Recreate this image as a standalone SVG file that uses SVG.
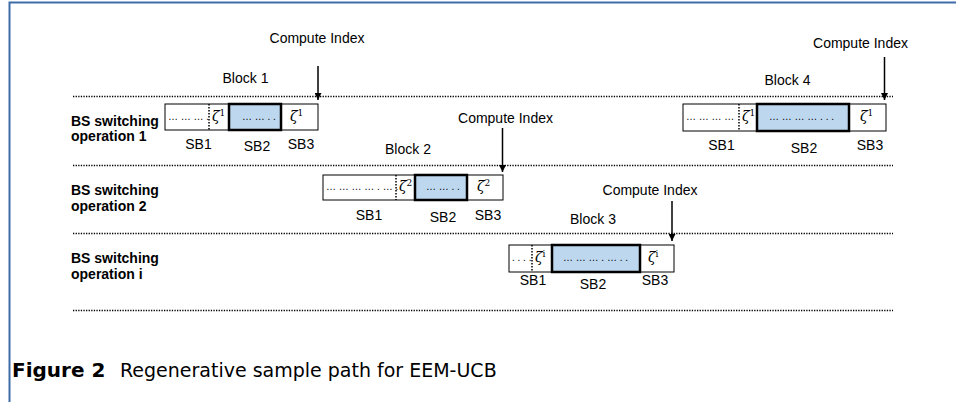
<svg xmlns="http://www.w3.org/2000/svg" width="956" height="402" viewBox="0 0 956 402">
  <defs>
    <marker id="arrowhead" viewBox="0 0 10 10" refX="10" refY="5" markerWidth="7" markerHeight="7" markerUnits="userSpaceOnUse" orient="auto">
      <path d="M0,0 L10,5 L0,10 z" fill="#000"/>
    </marker>
    <style>
      .lbl { font-family: "Liberation Sans", Arial, sans-serif; font-size: 14px; fill: #000; }
      .row { font-family: "Liberation Sans", Arial, sans-serif; font-size: 14px; font-weight: bold; fill: #000; }
      .dots { font-family: "Liberation Sans", Arial, sans-serif; font-size: 10px; fill: #000; }
      .zeta { font-family: "DejaVu Serif", "Liberation Serif", serif; font-style: italic; font-size: 14px; fill: #000; }
      .sup { font-size: 9px; font-style: normal; }
      .sep { stroke: #000; stroke-width: 1.3; stroke-dasharray: 1.3 1.3; fill: none; }
      .box { fill: #fff; stroke: #000; stroke-width: 1; }
      .sb2 { fill: #bdd7ee; stroke: #000; stroke-width: 2.5; }
      .div { stroke: #000; stroke-width: 1.5; stroke-dasharray: 1.5 1.5; }
      .arrow { stroke: #000; stroke-width: 1.5; fill: none; marker-end: url(#arrowhead); }
      .cap { font-family: "DejaVu Sans", "Liberation Sans", sans-serif; font-size: 19px; fill: #000; }
      .cap-b { font-size: 20px; font-weight: bold; }
    </style>
  </defs>
  <rect width="956" height="402" fill="#fff"/>

  <!-- page frame -->
  <path d="M9.5,402 L9.5,2.5 L956,2.5" fill="none" stroke="#3f6ca8" stroke-width="2"/>

  <!-- horizontal row separators -->
  <g id="separators">
    <line class="sep" x1="73" y1="96.5" x2="893" y2="96.5"/>
    <line class="sep" x1="73" y1="165.5" x2="893" y2="165.5"/>
    <line class="sep" x1="73" y1="233.5" x2="893" y2="233.5"/>
    <line class="sep" x1="73" y1="310.5" x2="893" y2="310.5"/>
  </g>

  <!-- row titles -->
  <g id="row-titles">
    <text class="row" x="71" y="126">BS switching</text>
    <text class="row" x="71" y="141">operation 1</text>
    <text class="row" x="71" y="195">BS switching</text>
    <text class="row" x="71" y="211">operation 2</text>
    <text class="row" x="71" y="263">BS switching</text>
    <text class="row" x="71" y="279">operation i</text>
  </g>

  <!-- Block 1 -->
  <g id="block1">
    <rect class="box" x="165" y="104" width="153" height="26"/>
    <line class="div" x1="209" y1="104" x2="209" y2="130"/>
    <rect class="sb2" x="229" y="104" width="52" height="26"/>
    <text class="dots" x="168" y="120">… … … .</text>
    <text class="zeta" x="212" y="121">ζ<tspan class="sup" dy="-5">1</tspan></text>
    <text class="dots" x="242" y="120">… … . .</text>
    <text class="zeta" x="290" y="121">ζ<tspan class="sup" dy="-5">1</tspan></text>
    <text class="lbl" x="198.5" y="149" text-anchor="middle">SB1</text>
    <text class="lbl" x="257" y="151" text-anchor="middle">SB2</text>
    <text class="lbl" x="301" y="149" text-anchor="middle">SB3</text>
    <text class="lbl" x="245.5" y="83" text-anchor="middle">Block 1</text>
    <text class="lbl" x="317" y="43" text-anchor="middle">Compute Index</text>
  </g>

  <!-- Block 2 -->
  <g id="block2">
    <rect class="box" x="323" y="175" width="180" height="25"/>
    <line class="div" x1="396" y1="175" x2="396" y2="200"/>
    <rect class="sb2" x="415" y="175" width="52" height="25"/>
    <text class="dots" x="326" y="190">… … … … . … .</text>
    <text class="zeta" x="399" y="191">ζ<tspan class="sup" dy="-5">2</tspan></text>
    <text class="dots" x="426" y="190">… … . .</text>
    <text class="zeta" x="477" y="191">ζ<tspan class="sup" dy="-5">2</tspan></text>
    <text class="lbl" x="369" y="220" text-anchor="middle">SB1</text>
    <text class="lbl" x="443" y="222" text-anchor="middle">SB2</text>
    <text class="lbl" x="488" y="220" text-anchor="middle">SB3</text>
    <text class="lbl" x="408" y="154" text-anchor="middle">Block 2</text>
    <text class="lbl" x="505.5" y="123" text-anchor="middle">Compute Index</text>
  </g>

  <!-- Block 3 -->
  <g id="block3">
    <rect class="box" x="509" y="245" width="165" height="27"/>
    <line class="div" x1="532" y1="245" x2="532" y2="272"/>
    <rect class="sb2" x="552" y="245" width="88" height="27"/>
    <text class="dots" x="512" y="261">. . . .</text>
    <text class="zeta" x="535" y="262">ζ<tspan class="sup" dy="-5">i</tspan></text>
    <text class="dots" x="563" y="261">… … … . … . .</text>
    <text class="zeta" x="648" y="262">ζ<tspan class="sup" dy="-5">i</tspan></text>
    <text class="lbl" x="533" y="285" text-anchor="middle">SB1</text>
    <text class="lbl" x="593" y="289" text-anchor="middle">SB2</text>
    <text class="lbl" x="655" y="285" text-anchor="middle">SB3</text>
    <text class="lbl" x="593" y="224" text-anchor="middle">Block 3</text>
    <text class="lbl" x="650" y="195" text-anchor="middle">Compute Index</text>
  </g>

  <!-- Block 4 -->
  <g id="block4">
    <rect class="box" x="683" y="104" width="203" height="27"/>
    <line class="div" x1="739" y1="104" x2="739" y2="131"/>
    <rect class="sb2" x="757" y="104" width="92" height="27"/>
    <text class="dots" x="686" y="120">… … … …</text>
    <text class="zeta" x="742" y="121">ζ<tspan class="sup" dy="-5">1</tspan></text>
    <text class="dots" x="769" y="120">… … … … . . .</text>
    <text class="zeta" x="860" y="121">ζ<tspan class="sup" dy="-5">1</tspan></text>
    <text class="lbl" x="721.5" y="150" text-anchor="middle">SB1</text>
    <text class="lbl" x="804" y="153" text-anchor="middle">SB2</text>
    <text class="lbl" x="870" y="150" text-anchor="middle">SB3</text>
    <text class="lbl" x="787.5" y="85" text-anchor="middle">Block 4</text>
    <text class="lbl" x="860.5" y="48" text-anchor="middle">Compute Index</text>
  </g>

  <!-- Compute Index arrows -->
  <g id="connectors">
    <line class="arrow" x1="318" y1="66" x2="318" y2="100"/>
    <line class="arrow" x1="502.5" y1="128" x2="502.5" y2="172"/>
    <line class="arrow" x1="672" y1="201" x2="672" y2="241"/>
    <line class="arrow" x1="884.5" y1="57" x2="884.5" y2="100"/>
  </g>

  <!-- caption -->
  <text class="cap" x="12" y="377"><tspan class="cap-b">Figure 2</tspan><tspan x="120">Regenerative sample path for EEM-UCB</tspan></text>
</svg>
